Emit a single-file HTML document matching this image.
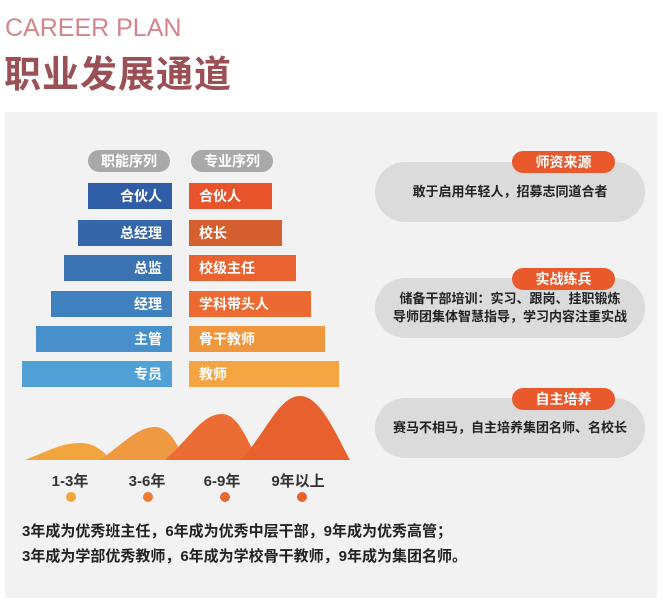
<!DOCTYPE html>
<html><head><meta charset="utf-8"><style>
body{margin:0;width:668px;height:603px;background:#fff;position:relative;overflow:hidden;font-family:"Liberation Sans","Noto Sans CJK SC",sans-serif;}
.a{position:absolute;}
.panel{left:5px;top:112px;width:652px;height:486px;background:#f3f2f2;}
.bl,.br{position:absolute;height:26px;color:#fff;font-weight:bold;font-size:14px;line-height:26px;}
.bl{text-align:right;padding-right:10px;box-sizing:border-box;right:496px;}
.br{left:189px;padding-left:10px;box-sizing:border-box;}
.hd{position:absolute;top:150px;height:22px;width:82px;border-radius:11px;background:#a9a9a9;color:#fff;font-weight:bold;font-size:14px;line-height:22px;text-align:center;}
.box{position:absolute;left:375px;width:270px;height:60px;border-radius:30px;background:#dcdbdb;color:#222;font-weight:bold;font-size:13px;text-align:center;}
.tag{position:absolute;left:512px;width:103px;height:22px;border-radius:11px;background:#e9592c;color:#fff;font-weight:bold;font-size:14px;line-height:22px;text-align:center;}
.yl{position:absolute;top:470px;width:80px;text-align:center;font-weight:bold;font-size:15px;color:#333;}
.dot{position:absolute;top:492px;width:10px;height:10px;border-radius:5px;}
.bt{position:absolute;left:22px;font-weight:bold;font-size:15px;color:#222;}
</style></head><body>
<div class="a" style="left:5px;top:14px;font-size:25px;color:#d4858c;">CAREER PLAN</div>
<div class="a" style="left:4px;top:44px;font-size:37px;font-weight:bold;color:#9b5055;letter-spacing:1px;">职业发展通道</div>
<div class="a panel"></div>
<div class="hd" style="left:88px">职能序列</div>
<div class="hd" style="left:191px">专业序列</div>
<div class="bl" style="top:183px;width:84px;background:#2f5ea6">合伙人</div>
<div class="bl" style="top:220px;width:94px;background:#3566aa">总经理</div>
<div class="bl" style="top:255px;width:108px;background:#3a72b2">总监</div>
<div class="bl" style="top:291px;width:121px;background:#3f80bf">经理</div>
<div class="bl" style="top:326px;width:136px;background:#4790cb">主管</div>
<div class="bl" style="top:361px;width:150px;background:#51a0d6">专员</div>
<div class="br" style="top:183px;width:83px;background:#e9532b">合伙人</div>
<div class="br" style="top:220px;width:93px;background:#d65f30">校长</div>
<div class="br" style="top:255px;width:107px;background:#e9622f">校级主任</div>
<div class="br" style="top:291px;width:122px;background:#ec6a31">学科带头人</div>
<div class="br" style="top:326px;width:136px;background:#f0973d">骨干教师</div>
<div class="br" style="top:361px;width:150px;background:#f4a541">教师</div>
<div class="box" style="top:162px;line-height:60px;">敢于启用年轻人，招募志同道合者</div>
<div class="tag" style="top:151px">师资来源</div>
<div class="box" style="top:278px;padding-top:12px;height:48px;line-height:18px;">储备干部培训：实习、跟岗、挂职锻炼<br>导师团集体智慧指导，学习内容注重实战</div>
<div class="tag" style="top:268px">实战练兵</div>
<div class="box" style="top:398px;line-height:60px;">赛马不相马，自主培养集团名师、名校长</div>
<div class="tag" style="top:388px">自主培养</div>
<svg class="a" style="left:0;top:0" width="668" height="603">
<path d="M25 460 C50 450 62 443 80 443 C92 443 100 448 112 460 Z" fill="#f3a53d"/>
<path d="M100 460 C125 442 138 427 155 427 C168 427 175 440 185 460 Z" fill="#ef9a42"/>
<path d="M165 460 C190 438 202 414 222 414 C238 414 247 440 258 460 Z" fill="#ec6d33"/>
<path d="M240 460 C265 436 278 396 300 396 C320 396 335 432 350 460 Z" fill="#e9602f"/>
</svg>
<div class="yl" style="left:30px">1-3年</div>
<div class="yl" style="left:107px">3-6年</div>
<div class="yl" style="left:182px">6-9年</div>
<div class="yl" style="left:258px">9年以上</div>
<div class="dot" style="left:66px;background:#f5a53c"></div>
<div class="dot" style="left:143px;background:#ee7a35"></div>
<div class="dot" style="left:220px;background:#e46a35"></div>
<div class="dot" style="left:297px;background:#e8602f"></div>
<div class="bt" style="top:520px">3年成为优秀班主任，6年成为优秀中层干部，9年成为优秀高管；</div>
<div class="bt" style="top:545px">3年成为学部优秀教师，6年成为学校骨干教师，9年成为集团名师。</div>
</body></html>
